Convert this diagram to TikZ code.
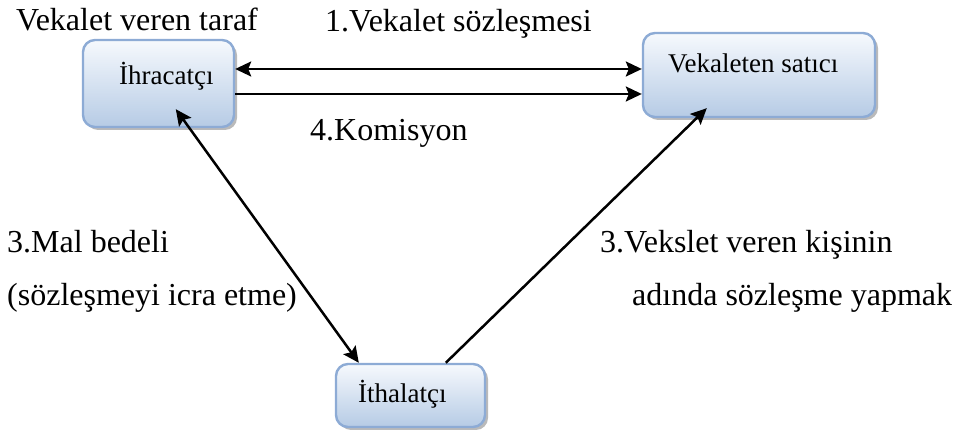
\documentclass[tikz,border=0pt]{standalone}
\usepackage{fontspec}
\setmainfont{Liberation Serif}
\usetikzlibrary{arrows.meta,shadows,calc}

\definecolor{boxedge}{RGB}{141,171,213}
\definecolor{boxtop}{RGB}{246,249,253}
\definecolor{boxbottom}{RGB}{182,203,229}

\tikzset{
  party/.style={draw=boxedge, line width=2.4pt, rounded corners=12pt,
    top color=boxtop, bottom color=boxbottom, inner sep=0pt,
    drop shadow={shadow xshift=3pt, shadow yshift=-3pt, fill=black!45, opacity=0.6}},
  partyname/.style={anchor=base west, inner sep=0pt, font=\fontsize{27}{31}\selectfont},
  caption/.style={anchor=base west, inner sep=0pt, font=\fontsize{32}{37}\selectfont},
  flow/.style={line width=2.5pt, -{Stealth[length=16pt,width=15pt,inset=3pt]}},
  twoway/.style={line width=2.5pt, {Stealth[length=16pt,width=15pt,inset=3pt]}-{Stealth[length=16pt,width=15pt,inset=3pt]}}
}

\begin{document}
\begin{tikzpicture}[x=1pt,y=1pt]
\useasboundingbox (0,0) rectangle (955,436);

% the three parties
\node[party, minimum width=151pt, minimum height=87pt] (exp) at (158.5,352.5) {};
\node[party, minimum width=232pt, minimum height=84pt] (sel) at (759,361) {};
\node[party, minimum width=149pt, minimum height=63pt] (imp) at (410.5,40.5) {};

\node[partyname] (expname) at (119,351) {İhracatçı};
\node[partyname] (selname) at (668,363) {Vekaleten satıcı};
\node[partyname] (impname) at (358,33) {İthalatçı};

% connectors
\draw[twoway] (exp.east |- 0,367) -- (sel.west |- 0,367);
\draw[flow] (exp.east |- 0,342) -- (sel.west |- 0,342);
\draw[twoway] ($(exp.south west)+(94,19)$) -- ($(imp.north west)+(24,0)$);
\draw[flow] ($(imp.north west)+(111,0)$) -- ($(sel.south west)+(65,10)$);

% captions
\node[caption] (lblprincipal) at (16,405) {Vekalet veren taraf};
\node[caption] (lblcontract) at (325,404) {1.Vekalet sözleşmesi};
\node[caption] (lblfee) at (310,295) {4.Komisyon};
\node[caption] (lblprice) at (7,183) {3.Mal bedeli};
\node[caption] (lblperform) at (7,130) {(sözleşmeyi icra etme)};
\node[caption] (lblname1) at (600,183) {3.Vekslet veren kişinin};
\node[caption] (lblname2) at (632,130) {adında sözleşme yapmak};
\end{tikzpicture}
\end{document}
